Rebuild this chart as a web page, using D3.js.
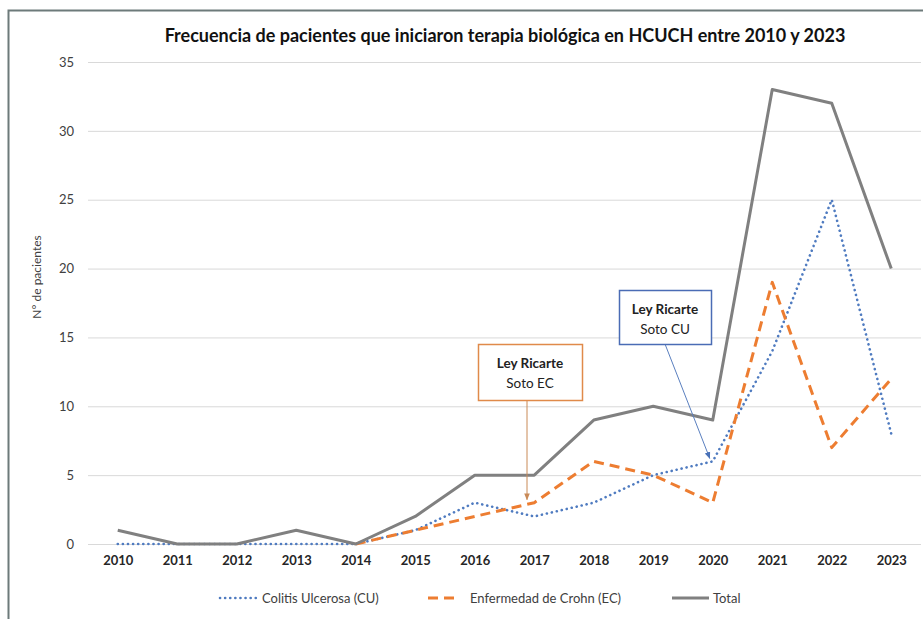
<!DOCTYPE html>
<html>
<head>
<meta charset="utf-8">
<script src="https://cdn.jsdelivr.net/npm/d3@7"></script>
<style>
  body { margin: 0; background: #fff; }
  svg { display: block; }
</style>
</head>
<body>
<div id="chart"></div>
<script>
// data
var years = ['2010', '2011', '2012', '2013', '2014', '2015', '2016', '2017', '2018', '2019', '2020', '2021', '2022', '2023'];
var cu = [0, 0, 0, 0, 0, 1, 3, 2, 3, 5, 6, 14, 25, 8];
var ec = [null, null, null, null, 0, 1, 2, 3, 6, 5, 3, 19, 7, 12];
var total = [1, 0, 0, 1, 0, 2, 5, 5, 9, 10, 9, 33, 32, 20];
var yTicks = [0, 5, 10, 15, 20, 25, 30, 35];

var W = 923, H = 619;
var margin = { top: 62, bottom: 75, left: 88, right: 2 },
    width = W - margin.left - margin.right,
    height = H - margin.top - margin.bottom;

var font = 'Lato, "Open Sans", sans-serif';

var root = d3.select('#chart')
    .append('svg')
    .attr('width', W)
    .attr('height', H);

// outer frame
root.append('rect')
    .attr('x', 8.5)
    .attr('y', 10.5)
    .attr('width', 940)
    .attr('height', 700)
    .attr('fill', 'none')
    .attr('stroke', '#6d7a7a')
    .attr('stroke-width', 2);

// title
root.append('text')
    .attr('x', 505)
    .attr('y', 42)
    .attr('text-anchor', 'middle')
    .attr('font-family', font)
    .attr('font-weight', 'bold')
    .attr('font-size', 18)
    .attr('fill', '#111')
    .text('Frecuencia de pacientes que iniciaron terapia biológica en HCUCH entre 2010 y 2023');

var svg = root.append('g')
    .attr('transform', 'translate(' + margin.left + ',' + margin.top + ')');

var xScale = d3.scalePoint()
    .domain(years)
    .range([0, width])
    .padding(0.5);

var yScale = d3.scaleLinear()
    .domain([0, 35])
    .range([height, 0]);

// gridlines
svg.append('g')
    .attr('class', 'grid')
    .call(d3.axisLeft(yScale).tickValues(yTicks).tickSize(-width).tickFormat(''))
    .call(function(g) {
        g.select('.domain').remove();
        g.selectAll('line').attr('stroke', '#d9d9d9').attr('stroke-width', 1);
    });

// Y-Axis
svg.append('g')
    .call(d3.axisLeft(yScale).tickValues(yTicks).tickSize(0).tickPadding(14))
    .call(function(g) {
        g.select('.domain').remove();
        g.selectAll('text')
            .attr('font-family', font)
            .attr('font-size', 13)
            .attr('fill', '#404040');
    });

// X-Axis
svg.append('g')
    .attr('transform', 'translate(0,' + height + ')')
    .call(d3.axisBottom(xScale).tickSize(0).tickPadding(12))
    .call(function(g) {
        g.select('.domain').remove();
        g.selectAll('text')
            .attr('font-family', font)
            .attr('font-weight', 'bold')
            .attr('font-size', 13)
            .attr('fill', '#262626');
    });

root.append('text')
    .attr('transform', 'translate(41,277) rotate(-90)')
    .attr('text-anchor', 'middle')
    .attr('font-family', font)
    .attr('font-size', 12)
    .attr('fill', '#404040')
    .text('N° de pacientes');

var line = d3.line()
    .defined(function(d) { return d != null; })
    .x(function(d, i) { return xScale(years[i]); })
    .y(function(d) { return yScale(d); });

// series
var series = [
    { name: 'Colitis Ulcerosa (CU)', values: cu, color: '#4f7bc0', width: 2.6, dash: '0.1,5', cap: 'round' },
    { name: 'Enfermedad de Crohn (EC)', values: ec, color: '#ed7d31', width: 3, dash: '10,6', cap: 'butt' },
    { name: 'Total', values: total, color: '#808080', width: 3, dash: null, cap: 'butt' }
];

svg.selectAll('path.series')
    .data(series)
    .enter().append('path')
    .attr('class', 'series')
    .attr('d', function(d) { return line(d.values); })
    .attr('fill', 'none')
    .attr('stroke', function(d) { return d.color; })
    .attr('stroke-width', function(d) { return d.width; })
    .attr('stroke-dasharray', function(d) { return d.dash; })
    .attr('stroke-linecap', function(d) { return d.cap; })
    .attr('stroke-linejoin', 'round');

// annotations
var defs = root.append('defs');
function marker(id, color) {
    defs.append('marker')
        .attr('id', id)
        .attr('viewBox', '0 0 10 10')
        .attr('refX', 9)
        .attr('refY', 5)
        .attr('markerWidth', 7)
        .attr('markerHeight', 7)
        .attr('orient', 'auto')
        .append('path')
        .attr('d', 'M0,1 L10,5 L0,9 z')
        .attr('fill', color);
}
marker('arrEC', '#c98a57');
marker('arrCU', '#4a72b8');

var notes = [
    { lines: ['Ley Ricarte', 'Soto EC'], box: [478, 344, 104, 56], color: '#e08a4a', arrow: '#c98a57', id: 'arrEC',
      from: [527, 400], year: '2017', value: ec[7] },
    { lines: ['Ley Ricarte', 'Soto CU'], box: [619, 290, 92, 54], color: '#4a6cb5', arrow: '#5a7fbf', id: 'arrCU',
      from: [665, 344], year: '2020', value: cu[10] }
];

notes.forEach(function(n) {
    root.append('line')
        .attr('x1', n.from[0])
        .attr('y1', n.from[1])
        .attr('x2', n.year === '2017' ? n.from[0] : margin.left + xScale(n.year) - 3)
        .attr('y2', margin.top + yScale(n.value) - 3)
        .attr('stroke', n.arrow)
        .attr('stroke-width', 1)
        .attr('marker-end', 'url(#' + n.id + ')');
    root.append('rect')
        .attr('x', n.box[0] + 0.5)
        .attr('y', n.box[1] + 0.5)
        .attr('width', n.box[2])
        .attr('height', n.box[3])
        .attr('fill', '#fff')
        .attr('stroke', n.color)
        .attr('stroke-width', 1.5);
    n.lines.forEach(function(t, i) {
        root.append('text')
            .attr('x', n.box[0] + n.box[2] / 2)
            .attr('y', n.box[1] + 24 + i * 20)
            .attr('text-anchor', 'middle')
            .attr('font-family', font)
            .attr('font-weight', i === 0 ? 'bold' : 'normal')
            .attr('font-size', 13.5)
            .attr('fill', '#222')
            .text(t);
    });
});

// Legend
var legendX = [220, 428, 672];
var legend = root.append('g')
    .selectAll('g')
    .data(series)
    .enter().append('g')
    .attr('transform', function(d, i) { return 'translate(' + legendX[i] + ',598)'; });

legend.append('line')
    .attr('x1', 0)
    .attr('x2', function(d, i) { return i === 1 ? 32 : 37; })
    .attr('y1', 0)
    .attr('y2', 0)
    .attr('stroke', function(d) { return d.color; })
    .attr('stroke-width', function(d) { return d.width; })
    .attr('stroke-dasharray', function(d) { return d.dash; })
    .attr('stroke-linecap', function(d) { return d.cap; });

legend.append('text')
    .attr('x', function(d, i) { return i === 2 ? 41 : 42; })
    .attr('y', 0)
    .attr('dy', '0.35em')
    .attr('font-family', font)
    .attr('font-size', 13)
    .attr('fill', '#404040')
    .text(function(d) { return d.name; });
</script>
</body>
</html>
